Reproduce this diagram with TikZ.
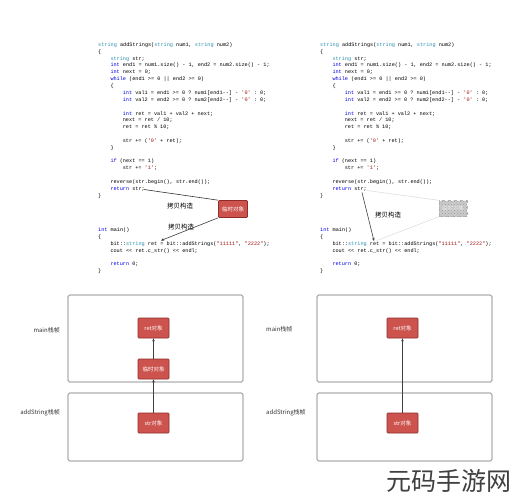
\documentclass[tikz,border=0pt]{standalone}
\usepackage{fontspec}
\setmonofont{Liberation Mono}
\newfontfamily\cjk{Noto Sans CJK SC}
\usetikzlibrary{arrows.meta,calc,patterns}
\definecolor{kwblue}{RGB}{0,0,230}
\definecolor{tyteal}{RGB}{43,145,175}
\definecolor{litred}{RGB}{163,21,21}
\definecolor{objred}{RGB}{205,84,78}
\definecolor{objedge}{RGB}{140,45,42}
\definecolor{frame}{RGB}{110,110,110}
\newcommand\kw[1]{\textcolor{kwblue}{#1}}
\newcommand\ty[1]{\textcolor{tyteal}{#1}}
\newcommand\lit[1]{\textcolor{litred}{#1}}
\newcommand\codeblock[2]{%
 \node[code] (#1l0) at (#2, 45.0) {\ty{string} addStrings(\ty{string} num1, \ty{string} num2)};
 \node[code] (#1l1) at (#2, 51.9) {\{};
 \node[code] (#1l2) at (#2+12.3, 58.7) {\ty{string} str;};
 \node[code] (#1l3) at (#2+12.3, 65.6) {\kw{int} end1 = num1.size() - 1, end2 = num2.size() - 1;};
 \node[code] (#1l4) at (#2+12.3, 72.4) {\kw{int} next = 0;};
 \node[code] (#1l5) at (#2+12.3, 79.3) {\kw{while} (end1 >= 0 || end2 >= 0)};
 \node[code] (#1l6) at (#2+12.3, 86.2) {\{};
 \node[code] (#1l7) at (#2+24.6, 93.0) {\kw{int} val1 = end1 >= 0 ? num1[end1-{}-] - \lit{'0'} : 0;};
 \node[code] (#1l8) at (#2+24.6, 99.9) {\kw{int} val2 = end2 >= 0 ? num2[end2-{}-] - \lit{'0'} : 0;};
 \node[code] (#1l10) at (#2+24.6, 113.6) {\kw{int} ret = val1 + val2 + next;};
 \node[code] (#1l11) at (#2+24.6, 120.5) {next = ret / 10;};
 \node[code] (#1l12) at (#2+24.6, 127.3) {ret = ret \% 10;};
 \node[code] (#1l14) at (#2+24.6, 141.0) {str += (\lit{'0'} + ret);};
 \node[code] (#1l15) at (#2+12.3, 147.9) {\}};
 \node[code] (#1l17) at (#2+12.3, 161.6) {\kw{if} (next == 1)};
 \node[code] (#1l18) at (#2+24.6, 168.5) {str += \lit{'1'};};
 \node[code] (#1l20) at (#2+12.3, 182.2) {reverse(str.begin(), str.end());};
 \node[code] (#1l21) at (#2+12.3, 189.1) {\kw{return} str;};
 \node[code] (#1l22) at (#2, 195.9) {\}};
 \node[code] (#1l27) at (#2, 230.2) {\kw{int} main()};
 \node[code] (#1l28) at (#2, 237.1) {\{};
 \node[code] (#1l29) at (#2+12.3, 243.9) {bit::\ty{string} ret = bit::addStrings(\lit{"11111"}, \lit{"2222"});};
 \node[code] (#1l30) at (#2+12.3, 250.8) {cout << ret.c\_str() << endl;};
 \node[code] (#1l32) at (#2+12.3, 264.5) {\kw{return} 0;};
 \node[code] (#1l33) at (#2, 271.4) {\}};
}
\tikzset{
 code/.style={anchor=west, inner sep=0pt, font=\ttfamily\fontsize{5.2}{6}\selectfont},
 obj/.style={draw=objedge, fill=objred, text=white, minimum width=31pt, minimum height=20pt, inner sep=0pt, font=\cjk\fontsize{5.5}{6}\selectfont, rounded corners=0.8pt, line width=0.6pt},
 ghost/.style={draw=gray!60, dashed, preaction={fill=gray!40}, pattern=crosshatch dots, pattern color=gray!80, minimum width=28pt, minimum height=16pt, inner sep=0pt, text=gray!15, font=\cjk\fontsize{5.5}{6}\selectfont},
 frameBox/.style={draw=frame, rounded corners=1.5pt, line width=0.6pt},
 lbl/.style={font=\cjk\fontsize{6}{7}\selectfont, text=black!80, inner sep=0pt},
 captext/.style={font=\cjk\fontsize{6.5}{7}\selectfont, inner sep=0pt},
 link/.style={draw=black!80, line width=0.6pt},
 arr/.style={draw=black!75, line width=0.6pt, -{Stealth[length=3pt,width=2.6pt]}},
 faint/.style={draw=gray!25, line width=0.6pt},
}
\begin{document}
\begin{tikzpicture}[x=1pt,y=-1pt]
\useasboundingbox (0,0) rectangle (513,500);
\fill[white] (0,0) rectangle (513,500);
% code blocks
\codeblock{L}{98}
\codeblock{R}{320}
% left code annotations
\node[obj, minimum width=29pt, minimum height=17pt] (ltmp) at (233,209) {临时对象};
\coordinate (lstart) at (144,189.5);
\coordinate (lret) at (161,240.5);
\draw[link] (lstart) -- (ltmp.north west);
\draw[arr] (ltmp.south west) -- (lret);
\node[captext] (lc1) at (180,206) {拷贝构造};
\node[captext] (lc2) at (181,227.5) {拷贝构造};
% right code annotations
\node[ghost] (rtmp) at (453,208.5) {临时对象};
\coordinate (rstart) at (362,192.5);
\coordinate (rret) at (374,241);
\coordinate (rf1) at (367,190.5);
\coordinate (rf2) at (377,240.5);
\draw[faint] (rf1) -- (rtmp.north west);
\draw[faint] (rf2) -- (rtmp.south west);
\draw[arr] (rstart) -- (rret);
\node[captext] (rc1) at (388,215) {拷贝构造};
% left stack frames
\draw[frameBox] (68,295) rectangle (243,382);
\draw[frameBox] (68,393) rectangle (243,461);
\node[lbl, anchor=east] (lmain) at (60,330) {main栈帧};
\node[lbl, anchor=east] (ladd) at (60,413) {addString栈帧};
\node[obj] (lretobj) at (153.5,328) {ret对象};
\node[obj] (ltmpobj) at (153.5,369) {临时对象};
\node[obj] (lstrobj) at (153.5,423) {str对象};
\draw[arr] (lstrobj) -- (ltmpobj);
\draw[arr] (ltmpobj) -- (lretobj);
% right stack frames
\draw[frameBox] (317,295) rectangle (492,382);
\draw[frameBox] (317,393) rectangle (492,461);
\node[lbl, anchor=west] (rmain) at (266,329) {main栈帧};
\node[lbl, anchor=west] (radd) at (266,413) {addString栈帧};
\node[obj] (rretobj) at (402.5,328) {ret对象};
\node[obj] (rstrobj) at (402.5,423) {str对象};
\draw[arr] (rstrobj) -- (rretobj);
% watermark
\node[font=\cjk\fontsize{25}{26}\selectfont, text=black!75, inner sep=0pt] (wm) at (449,481) {元码手游网};
\end{tikzpicture}
\end{document}
